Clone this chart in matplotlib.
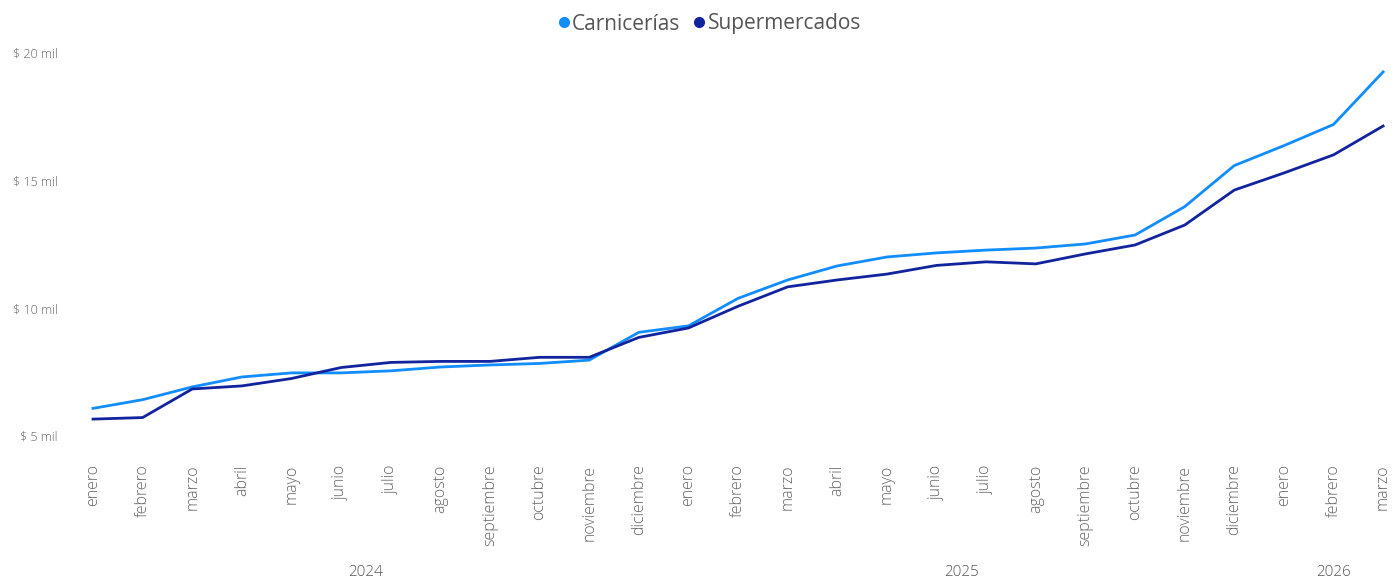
import matplotlib.pyplot as plt
from matplotlib.lines import Line2D

months = ['enero', 'febrero', 'marzo', 'abril', 'mayo', 'junio', 'julio',
          'agosto', 'septiembre', 'octubre', 'noviembre', 'diciembre']
years = ['2024', '2025', '2026']
month_labels = months + months + months[:3]
year_sizes = [12, 12, 3]

carnicerias = [6.08, 6.42, 6.92, 7.31, 7.47, 7.47, 7.55, 7.70, 7.78, 7.84, 7.97,
               9.06, 9.31, 10.39, 11.11, 11.66, 12.01, 12.17, 12.28, 12.36, 12.52, 12.87,
               13.98, 15.59, 16.37, 17.20, 19.26]
supermercados = [5.66, 5.72, 6.84, 6.96, 7.25, 7.68, 7.88, 7.92, 7.92, 8.08, 8.08,
                 8.86, 9.23, 10.08, 10.84, 11.11, 11.34, 11.68, 11.82, 11.74, 12.13, 12.48,
                 13.26, 14.63, 15.30, 16.01, 17.14]

c_carn = '#118DFF'
c_super = '#12239E'
grey = '#666666'
font = 'Open Sans'

fig = plt.figure(figsize=(13.98, 5.83), dpi=100)
W, H = 1398, 583
ax = fig.add_axes([80 / W, 1 - 445 / H, (1392 - 80) / W, 400 / H])

x = list(range(len(month_labels)))
ax.plot(x, carnicerias, color=c_carn, lw=2.0, solid_joinstyle='round')
ax.plot(x, supermercados, color=c_super, lw=2.0, solid_joinstyle='round')

# pixel mapping: index 0 at x=93, step 49.62
ax.set_xlim((80 - 93) / 49.62, (1392 - 93) / 49.62)
ax.set_ylim(20 - (445 - 53) / 25.53, 20 - (45 - 53) / 25.53)

for s in ax.spines.values():
    s.set_visible(False)

ax.set_xticks(x)
ax.set_xticklabels(month_labels, rotation=90, fontsize=11.5, color=grey, family=font,
                   fontweight='light')
ax.tick_params(axis='x', length=0, pad=14)
ax.set_yticks([5, 10, 15, 20])
ax.set_yticklabels(['$ 5 mil', '$ 10 mil', '$ 15 mil', '$ 20 mil'],
                   fontsize=9, color=grey, family=font, fontweight='light')
ax.tick_params(axis='y', length=0, pad=16)

# year labels centred under their months
start = 0
for yr, n in zip(years, year_sizes):
    mid = start + (n - 1) / 2
    ax.text(mid, -0.32, yr, transform=ax.get_xaxis_transform(), ha='center', va='center',
            fontsize=11, color='#555555', family=font, fontweight='light')
    start += n

handles = [
    Line2D([0], [0], marker='o', ls='', color=c_carn, markersize=7, label='Carnicerías'),
    Line2D([0], [0], marker='o', ls='', color=c_super, markersize=7, label='Supermercados'),
]
leg = fig.legend(handles=handles, loc='center', bbox_to_anchor=(706 / W, 1 - 24 / H), ncol=2,
                 frameon=False, handletextpad=-0.2, columnspacing=0.3, handlelength=1.2,
                 prop={'family': font, 'size': 15})
for t in leg.get_texts():
    t.set_color('#555555')

fig.savefig('out.png', dpi=100)
